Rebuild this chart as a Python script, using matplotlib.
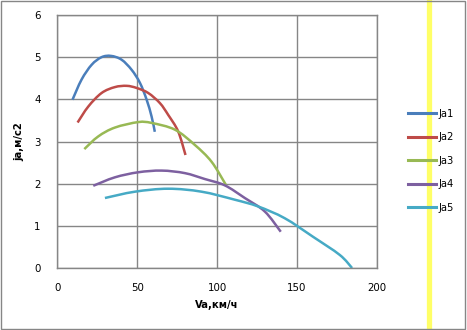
import numpy as np
import matplotlib
matplotlib.use("Agg")
import matplotlib.pyplot as plt
from matplotlib.path import Path
from matplotlib.patches import PathPatch, Rectangle
from matplotlib.lines import Line2D

# ---- data ----
labels = ["Ja1", "Ja2", "Ja3", "Ja4", "Ja5"]
ja1_x = [9.5, 15.2, 21.5, 27.7, 33.6, 40.2, 46.5, 51.7, 55.9, 59.0, 61.0]
ja1_y = [3.99, 4.47, 4.82, 5.00, 5.03, 4.94, 4.70, 4.39, 3.99, 3.59, 3.23]
ja2_x = [12.7, 19.4, 27.7, 36.0, 43.4, 49.6, 56.9, 64.2, 69.4, 75.6, 80.2]
ja2_y = [3.45, 3.83, 4.15, 4.29, 4.32, 4.27, 4.15, 3.91, 3.63, 3.24, 2.68]
ja3_x = [16.9, 25.6, 36.0, 50.6, 59.0, 73.6, 86.0, 96.5, 105.5]
ja3_y = [2.82, 3.12, 3.33, 3.46, 3.44, 3.28, 2.92, 2.52, 1.97]
ja4_x = [22.5, 36.0, 50.6, 65.3, 79.8, 92.3, 104.8, 117.3, 129.8, 139.8]
ja4_y = [1.95, 2.15, 2.27, 2.31, 2.25, 2.11, 1.96, 1.66, 1.34, 0.86]
ja5_x = [29.8, 48.6, 69.4, 90.2, 111.0, 125.6, 142.3, 160.0, 176.7, 184.4]
ja5_y = [1.66, 1.81, 1.88, 1.81, 1.62, 1.46, 1.18, 0.74, 0.31, 0.0]
colors = ["#4A7EBB", "#BE4B48", "#98B954", "#7D60A0", "#46AAC5"]
x_ticks = [0, 50, 100, 150, 200]
y_ticks = [0, 1, 2, 3, 4, 5, 6]

series = [(ja1_x, ja1_y), (ja2_x, ja2_y), (ja3_x, ja3_y), (ja4_x, ja4_y), (ja5_x, ja5_y)]


def smooth_path(xs, ys):
    p = np.column_stack([xs, ys]).astype(float)
    n = len(p)
    verts = [p[0]]
    codes = [Path.MOVETO]
    for i in range(n - 1):
        p0 = p[i - 1] if i > 0 else p[i]
        p1 = p[i]
        p2 = p[i + 1]
        p3 = p[i + 2] if i + 2 < n else p[i + 1]
        c1 = p1 + (p2 - p0) / 6.0
        c2 = p2 - (p3 - p1) / 6.0
        verts += [c1, c2, p2]
        codes += [Path.CURVE4] * 3
    return Path(verts, codes)


W, H = 467, 330
fig = plt.figure(figsize=(W / 100, H / 100), dpi=100)
fig.patch.set_facecolor("white")

ax = fig.add_axes([57.3 / W, 1 - 268 / H, (377 - 57.3) / W, (268 - 15) / H])
ax.set_xlim(0, 200)
ax.set_ylim(0, 6)
ax.set_xticks(x_ticks)
ax.set_yticks(y_ticks)
ax.grid(True, color="#868686", lw=1.0)
ax.set_axisbelow(True)
for s in ax.spines.values():
    s.set_color("#868686")
    s.set_linewidth(1.0)
ax.tick_params(length=0, labelsize=7.4, colors="black")
ax.tick_params(axis="x", pad=11)
ax.tick_params(axis="y", pad=12)

handles = []
for (xs, ys), c, lab in zip(series, colors, labels):
    patch = PathPatch(smooth_path(xs, ys), facecolor="none", edgecolor=c,
                      lw=1.8, capstyle="butt", joinstyle="round",
                      transform=ax.transData)
    ax.add_patch(patch)
    handles.append(Line2D([], [], color=c, lw=2.2, label=lab))

ax.set_xlabel("Va,км/ч", fontsize=7.2, fontweight="bold", labelpad=5)
ax.set_ylabel("ja,м/с2", fontsize=7.2, fontweight="bold", labelpad=7)

# yellow vertical band
fig.add_artist(Line2D([428.5 / W, 428.5 / W], [0, 1], transform=fig.transFigure,
                      color="#FFFF66", lw=3.8, zorder=1))

leg = fig.legend(handles=handles, loc="upper left",
                 bbox_to_anchor=(404 / W, 1 - 105 / H), frameon=False,
                 fontsize=7.2, handlelength=2.8, handletextpad=0.25,
                 labelspacing=1.35, borderaxespad=0)
leg.set_zorder(3)

# outer border
fig.add_artist(Rectangle((1 / W, 1.5 / H), (465 - 1) / W, (329.5 - 1.5) / H,
                         transform=fig.transFigure, fill=False,
                         edgecolor="#868686", lw=1.0, zorder=4))

fig.savefig("out.png", dpi=100)
